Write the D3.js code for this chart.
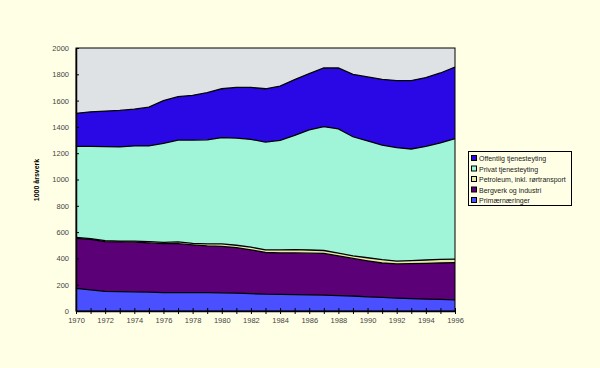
<!DOCTYPE html>
<html><head><meta charset="utf-8">
<script src="https://cdn.jsdelivr.net/npm/d3@7"></script>
<style>body{margin:0;background:#FFFFE5;}svg{display:block;}</style>
</head><body>
<svg id="c" width="600" height="368"></svg>
<script>
const years = d3.range(1970, 1997);
const primaer   = [172,160,150,148,146,143,140,140,140,140,138,136,132,128,127,125,122,120,117,114,108,103,98,94,90,88,85];
const bergverk  = [381,385,378,377,377,375,372,372,363,355,354,346,333,317,315,317,318,318,303,286,274,262,260,266,272,277,283];
const petroleum = [7,5,7,7,9,9,10,13,12,15,18,18,20,20,23,24,24,22,20,20,23,25,22,23,26,27,27];
const privat    = [692,702,715,716,723,728,753,775,785,792,808,815,820,820,833,869,914,942,945,905,888,872,862,849,864,886,915];
const offentlig = [251,263,270,277,280,295,325,330,340,358,372,385,395,405,412,425,427,446,463,475,487,500,510,520,523,532,545];
const seriesNames = ["Primærnæringer","Bergverk og industri","Petroleum, inkl. rørtransport","Privat tjenesteyting","Offentlig tjenesteyting"];
const seriesColors = ["#4A50FF","#5C0078","#E8E8A8","#A0F5D8","#2A08E6"];
const legendLabels = ["Offentlig tjenesteyting","Privat tjenesteyting","Petroleum, inkl. rørtransport","Bergverk og industri","Primærnæringer"];
const yTicks = [0,200,400,600,800,1000,1200,1400,1600,1800,2000];
const xTickLabels = [1970,1972,1974,1976,1978,1980,1982,1984,1986,1988,1990,1992,1994,1996];

const allSeries = [primaer,bergverk,petroleum,privat,offentlig];
const rows = years.map((y,i)=>{const o={year:y}; seriesNames.forEach((n,k)=>o[n]=allSeries[k][i]); return o;});
const stacked = d3.stack().keys(seriesNames)(rows);

const svg = d3.select("#c");
const L=76,R=455,T=48,B=311;
const x = d3.scaleLinear().domain([1970,1996]).range([L,R]);
const y = d3.scaleLinear().domain([0,2000]).range([B,T]);
const FONT = "Arial, 'Liberation Sans', sans-serif";

svg.append("rect").attr("x",L).attr("y",T).attr("width",R-L).attr("height",B-T).attr("fill","#DFE2E5");

const area = d3.area().x(d=>x(d.data.year)).y0(d=>y(d[0])).y1(d=>y(d[1]));
const line = d3.line().x(d=>x(d.data.year)).y(d=>y(d[1]));
svg.selectAll("path.a").data(stacked).join("path").attr("class","a")
  .attr("d",area).attr("fill",(d,i)=>seriesColors[i]);
svg.selectAll("path.l").data(stacked).join("path").attr("class","l")
  .attr("d",line).attr("fill","none").attr("stroke","#000").attr("stroke-width",1.3);

svg.append("rect").attr("x",L).attr("y",T).attr("width",R-L).attr("height",B-T)
  .attr("fill","none").attr("stroke","#000").attr("stroke-width",1);

const yAxis = d3.axisLeft(y).tickValues(yTicks).tickFormat(d3.format("d")).tickSizeInner(3).tickSizeOuter(0).tickPadding(4);
const gy = svg.append("g").attr("transform",`translate(${L},0)`).call(yAxis);
gy.selectAll(".tick line").attr("x2",3).attr("stroke","#000");
gy.select(".domain").attr("stroke","#000").attr("stroke-width",1.5);
gy.selectAll("text").attr("font-family",FONT).attr("font-size",7.5).attr("fill","#444");

const xAxis = d3.axisBottom(x).tickValues(years).tickFormat(d=>xTickLabels.includes(d)?d:"").tickSizeInner(3).tickSizeOuter(0).tickPadding(4);
const gx = svg.append("g").attr("transform",`translate(0,${B})`).call(xAxis);
gx.selectAll(".tick line").attr("y1",-3).attr("stroke","#000");
gx.select(".domain").attr("stroke","#000").attr("stroke-width",1.5);
gx.selectAll("text").attr("font-family",FONT).attr("font-size",7.5).attr("fill","#444");

svg.append("text").attr("transform","translate(39,180) rotate(-90)").attr("text-anchor","middle")
  .attr("font-family",FONT).attr("font-size",7).attr("font-weight","bold").attr("fill","#000").text("1000 årsverk");

const lg = svg.append("g");
lg.append("rect").attr("x",468.5).attr("y",151.5).attr("width",103).attr("height",54).attr("fill","#FFFFE5").attr("stroke","#000");
legendLabels.forEach((lab,i)=>{
  const k = seriesNames.length-1-i;
  const yy = 155+i*10.5;
  lg.append("rect").attr("x",471.5).attr("y",yy+0.5).attr("width",5).attr("height",5).attr("fill",seriesColors[k]).attr("stroke","#000");
  lg.append("text").attr("x",479).attr("y",yy+6).attr("font-family",FONT).attr("font-size",7).attr("fill","#222").text(lab);
});
</script>
</body></html>
